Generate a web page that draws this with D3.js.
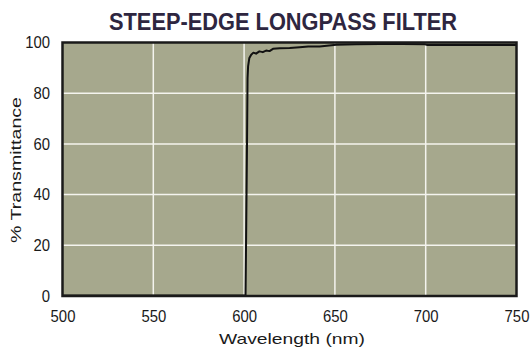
<!DOCTYPE html>
<html>
<head>
<meta charset="utf-8">
<script src="https://cdn.jsdelivr.net/npm/d3@7/dist/d3.min.js"></script>
<style>
  html, body { margin: 0; padding: 0; background: #ffffff; }
  svg { display: block; }
</style>
</head>
<body>
<svg id="chart" width="531" height="350"></svg>
<script>
const titleText = "STEEP-EDGE LONGPASS FILTER";
const xLabel = "Wavelength (nm)";
const yLabel = "% Transmittance";
const xTicks = [500, 550, 600, 650, 700, 750];
const yTicks = [0, 20, 40, 60, 80, 100];

const wavelength = [500, 550, 600, 600.8, 601.2, 601.6, 601.9, 602.2, 602.9, 603.9, 605.1, 606.6, 608.4, 610.3, 612.1, 614, 615.9, 619.6, 625.1, 630.6, 635.3, 641.6, 650.8, 661.8, 674.8, 687, 699.6, 701, 725, 750];
const transmittance = [0.2, 0.2, 0.2, 0.5, 30, 60, 86, 90.6, 93.9, 95.2, 96, 95.6, 96.5, 96.2, 96.8, 96.6, 97.5, 97.7, 97.8, 98.1, 98.4, 98.4, 99.1, 99.3, 99.4, 99.4, 99.3, 99.0, 99.0, 99.0];

const svg = d3.select("#chart");
const mL = 62.5, mR = 516.5, mT = 42.5, mB = 296;
const FONT = "Liberation Sans, Arial, Helvetica, sans-serif";

const x = d3.scaleLinear().domain([500, 750]).range([mL, mR]);
const y = d3.scaleLinear().domain([0, 100]).range([mB, mT]);

// plot background
svg.append("rect")
  .attr("x", mL).attr("y", mT)
  .attr("width", mR - mL).attr("height", mB - mT)
  .attr("fill", "#a6a88d");

// gridlines
svg.append("g")
  .selectAll("line")
  .data(xTicks.slice(1, -1))
  .join("line")
  .attr("x1", d => x(d)).attr("x2", d => x(d))
  .attr("y1", mT).attr("y2", mB)
  .attr("stroke", "#f4f4ee").attr("stroke-width", 1.5);
svg.append("g")
  .selectAll("line")
  .data(yTicks.slice(1, -1))
  .join("line")
  .attr("y1", d => y(d)).attr("y2", d => y(d))
  .attr("x1", mL).attr("x2", mR)
  .attr("stroke", "#f4f4ee").attr("stroke-width", 1.5);

// data line
const pts = wavelength.map((w, i) => [w, transmittance[i]]);
svg.append("path")
  .datum(pts)
  .attr("fill", "none")
  .attr("stroke", "#111")
  .attr("stroke-width", 2)
  .attr("stroke-linejoin", "round")
  .attr("d", d3.line().x(d => x(d[0])).y(d => y(d[1])));

// border
svg.append("rect")
  .attr("x", mL).attr("y", mT)
  .attr("width", mR - mL).attr("height", mB - mT)
  .attr("fill", "none")
  .attr("stroke", "#1a1a1a").attr("stroke-width", 2.5);

// axes (labels only)
const xAxis = d3.axisBottom(x).tickValues(xTicks).tickSize(0).tickPadding(0).tickFormat(d3.format("d"));
const gx = svg.append("g").attr("transform", `translate(0,${mB})`).call(xAxis);
gx.select(".domain").remove();
gx.selectAll("text")
  .attr("y", 26).attr("dy", null)
  .attr("transform", "scale(0.93,1)")
  .attr("font-family", FONT)
  .attr("font-size", 16).attr("fill", "#1a1a1a");

const yAxis = d3.axisLeft(y).tickValues(yTicks).tickSize(0).tickPadding(0).tickFormat(d3.format("d"));
const gy = svg.append("g").attr("transform", `translate(${mL},0)`).call(yAxis);
gy.select(".domain").remove();
gy.selectAll("text")
  .attr("x", -13.4).attr("dy", "0.32em")
  .attr("transform", "scale(0.93,1)")
  .attr("font-family", FONT)
  .attr("font-size", 16).attr("fill", "#1a1a1a");

// title
svg.append("text")
  .attr("x", 283).attr("y", 30)
  .attr("text-anchor", "middle")
  .attr("font-family", FONT)
  .attr("font-weight", "bold")
  .attr("font-size", 24.5)
  .attr("textLength", 348)
  .attr("lengthAdjust", "spacingAndGlyphs")
  .attr("fill", "#2e2640")
  .text(titleText);

// x title
svg.append("text")
  .attr("x", 292).attr("y", 344)
  .attr("text-anchor", "middle")
  .attr("font-family", FONT)
  .attr("font-size", 15)
  .attr("textLength", 146)
  .attr("lengthAdjust", "spacingAndGlyphs")
  .attr("fill", "#1a1a1a")
  .text(xLabel);

// y title
svg.append("text")
  .attr("transform", "translate(20.5,170) rotate(-90)")
  .attr("text-anchor", "middle")
  .attr("font-family", FONT)
  .attr("font-size", 15)
  .attr("textLength", 146)
  .attr("lengthAdjust", "spacingAndGlyphs")
  .attr("fill", "#1a1a1a")
  .text(yLabel);
</script>
</body>
</html>
